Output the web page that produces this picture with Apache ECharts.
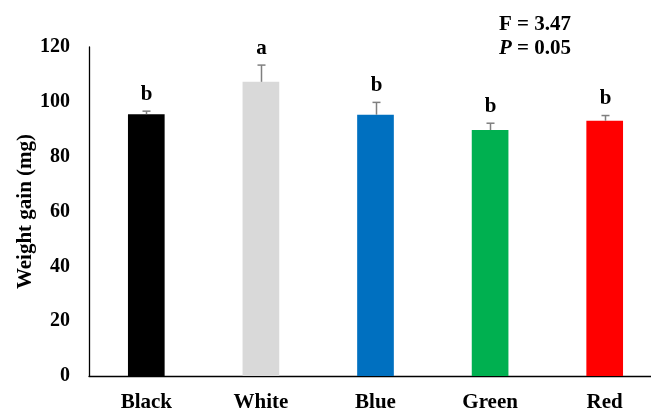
<!DOCTYPE html>
<html>
<head>
<meta charset="utf-8">
<script src="https://cdn.jsdelivr.net/npm/echarts@6/dist/echarts.min.js"></script>
<style>html,body{margin:0;padding:0;background:#fff}#c{width:651px;height:410px}</style>
</head>
<body>
<div id="c"></div>
<script>
var categories = ['Black', 'White', 'Blue', 'Green', 'Red'];
var means = [95.5, 107.3, 95.3, 89.7, 93.1];
var errors = [1.1, 6.1, 4.5, 2.5, 1.9];
var letters = ['b', 'a', 'b', 'b', 'b'];
var barColors = ['#000000', '#d9d9d9', '#0070c0', '#00b050', '#ff0000'];
var yTicks = [0, 20, 40, 60, 80, 100, 120];
var statLines = ['F = 3.47', '{i|P} = 0.05'];

var FONT = '"Liberation Serif", "DejaVu Serif", serif';
var chart = echarts.init(document.getElementById('c'));
chart.setOption({
  animation: false,
  backgroundColor: '#ffffff',
  textStyle: { fontFamily: FONT },
  grid: { left: 89, width: 573, top: 47, bottom: 34, containLabel: false, outerBoundsMode: 'none' },
  title: {
    text: statLines.join('\n'),
    left: 535, top: 13, textAlign: 'center', padding: 0,
    textStyle: {
      fontFamily: FONT, fontSize: 21, fontWeight: 'bold', color: '#000', lineHeight: 24,
      rich: { i: { fontFamily: FONT, fontSize: 21, fontWeight: 'bold', fontStyle: 'italic', color: '#000' } }
    }
  },
  xAxis: {
    type: 'category', data: categories,
    axisLine: { lineStyle: { color: '#000', width: 1.3 } },
    axisTick: { show: false },
    axisLabel: { color: '#000', fontFamily: FONT, fontSize: 21, fontWeight: 'bold', margin: 16 }
  },
  yAxis: {
    type: 'value', min: yTicks[0], max: yTicks[yTicks.length - 1], interval: 20,
    name: 'Weight gain (mg)', nameLocation: 'middle', nameGap: 63, nameRotate: 90,
    nameMoveOverlap: false,
    nameTextStyle: { color: '#000', fontFamily: FONT, fontSize: 21, fontWeight: 'bold', verticalAlign: 'middle' },
    axisLine: { show: true, lineStyle: { color: '#000', width: 1.3 } },
    axisTick: { show: false },
    splitLine: { show: false },
    axisLabel: { color: '#000', fontFamily: FONT, fontSize: 20, fontWeight: 'bold', margin: 19 }
  },
  series: [
    {
      type: 'bar', barWidth: '32%',
      data: means.map(function (v, i) { return { value: v, itemStyle: { color: barColors[i] } }; })
    },
    {
      type: 'custom',
      data: means.map(function (v, i) { return [i, v, v + errors[i], letters[i]]; }),
      renderItem: function (params, api) {
        var base = api.coord([api.value(0), api.value(1)]);
        var top = api.coord([api.value(0), api.value(2)]);
        var x = Math.round(base[0]) + 0.5;
        var hw = 4;
        var st = { stroke: '#7f7f7f', lineWidth: 1.5 };
        return {
          type: 'group',
          children: [
            { type: 'line', shape: { x1: x, y1: base[1], x2: x, y2: top[1] }, style: st },
            { type: 'line', shape: { x1: x - hw, y1: top[1], x2: x + hw, y2: top[1] }, style: st },
            { type: 'text', style: {
                text: api.value(3), x: x, y: top[1] - 6,
                textAlign: 'center', textVerticalAlign: 'bottom',
                font: 'bold 21px ' + FONT, fill: '#000'
            } }
          ]
        };
      },
      z: 3
    }
  ]
});
</script>
</body>
</html>
